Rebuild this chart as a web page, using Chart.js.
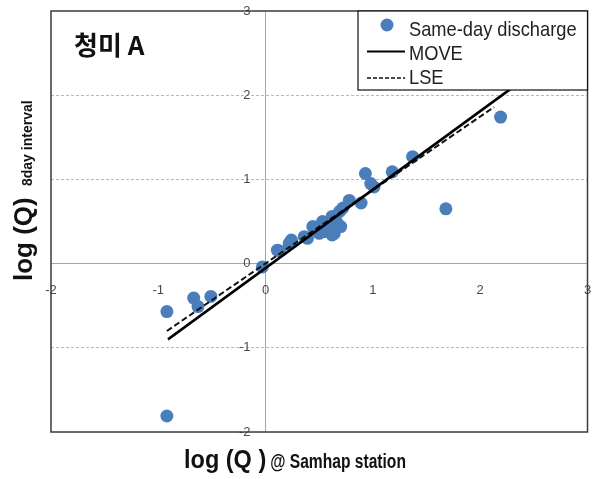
<!DOCTYPE html>
<html>
<head>
<meta charset="utf-8">
<script src="https://cdn.jsdelivr.net/npm/chart.js@4.4.0/dist/chart.umd.min.js"></script>
<style>
html, body { margin: 0; padding: 0; background: #fff; }
#wrap { width: 594px; height: 479px; position: relative; }
</style>
</head>
<body>
<div id="wrap"><canvas id="scatter-chart"></canvas></div>
<script>
// data (log Q)
var sameDayX = [-0.92, -0.92, -0.67, -0.63, -0.51, -0.03, 0.11, 0.13, 0.22, 0.24, 0.36, 0.39, 0.44, 0.47, 0.50, 0.53, 0.56, 0.58, 0.60, 0.62, 0.62, 0.64, 0.66, 0.67, 0.69, 0.70, 0.72, 0.78, 0.89, 0.93, 0.98, 1.01, 1.18, 1.37, 1.68, 2.19];
var sameDayY = [-0.57, -1.81, -0.41, -0.51, -0.39, -0.04, 0.16, 0.15, 0.24, 0.28, 0.32, 0.30, 0.44, 0.42, 0.36, 0.50, 0.38, 0.40, 0.46, 0.56, 0.34, 0.36, 0.50, 0.46, 0.62, 0.44, 0.66, 0.75, 0.72, 1.07, 0.95, 0.91, 1.09, 1.27, 0.65, 1.74];
var moveX = [-0.91, 2.30];
var moveY = [-0.90, 2.09];
var lseX = [-0.92, 2.13];
var lseY = [-0.80, 1.86];
var tickValues = [-2, -1, 0, 1, 2, 3];
var legendLabels = ['Same-day discharge', 'MOVE', 'LSE'];
var chartTitle = '청미 A';
var xTitle = ['log (Q )', '@ Samhap station'];
var yTitle = ['log (Q)', '8day interval'];

function toPoints(xs, ys) {
    return xs.map(function (x, i) { return { x: x, y: ys[i] }; });
}

var sans = '"Liberation Sans", Arial, sans-serif';

// text squeezed horizontally, to look like the narrow face of the original
function narrowText(ctx, text, x, y, sx) {
    ctx.save();
    ctx.translate(x, y);
    ctx.scale(sx, 1);
    ctx.fillText(text, 0, 0);
    var w = ctx.measureText(text).width * sx;
    ctx.restore();
    return w;
}

// frame, title, axis titles and legend box
var decor = {
    id: 'decor',
    afterDatasetsDraw: function (chart) {
        var ctx = chart.ctx;
        var a = chart.chartArea;
        ctx.save();

        // frame
        ctx.strokeStyle = '#3a3a3a';
        ctx.lineWidth = 1.5;
        ctx.strokeRect(a.left, a.top, a.right - a.left, a.bottom - a.top);

        // station title
        ctx.fillStyle = '#111';
        ctx.font = 'bold 26px "Noto Sans CJK KR", sans-serif';
        ctx.textBaseline = 'middle';
        ctx.textAlign = 'left';
        ctx.fillText(chartTitle, 74, 45);

        // x title
        ctx.textBaseline = 'alphabetic';
        ctx.font = 'bold 25px ' + sans;
        var w = narrowText(ctx, xTitle[0], 184, 468, 0.94);
        ctx.font = 'bold 20px ' + sans;
        narrowText(ctx, xTitle[1], 184 + w + 4, 468, 0.78);

        // y title
        ctx.save();
        ctx.translate(32, 281);
        ctx.rotate(-Math.PI / 2);
        ctx.font = 'bold 26px ' + sans;
        ctx.fillText(yTitle[0], 0, 0);
        ctx.font = 'bold 14px ' + sans;
        ctx.fillText(yTitle[1], 95, 0);
        ctx.restore();

        // legend
        var lx = 358, ly = 11, lw = a.right - 358, lh = 79;
        ctx.fillStyle = '#fff';
        ctx.fillRect(lx, ly, lw, lh);
        ctx.strokeStyle = '#111';
        ctx.lineWidth = 1.2;
        ctx.strokeRect(lx, ly, lw, lh);

        var marks = [25, 51.5, 78];
        var bases = [36, 60, 84];
        ctx.font = '21px ' + sans;
        ctx.textBaseline = 'alphabetic';
        chart.data.datasets.forEach(function (ds, i) {
            var y = marks[i];
            if (ds.showLine) {
                ctx.beginPath();
                ctx.strokeStyle = ds.borderColor;
                ctx.lineWidth = ds.borderWidth * 0.8;
                ctx.setLineDash(ds.borderDash ? [4, 2] : []);
                ctx.moveTo(367, y);
                ctx.lineTo(405, y);
                ctx.stroke();
                ctx.setLineDash([]);
            } else {
                ctx.beginPath();
                ctx.fillStyle = ds.backgroundColor;
                ctx.arc(387, y, ds.pointRadius, 0, Math.PI * 2);
                ctx.fill();
            }
            ctx.fillStyle = '#222';
            narrowText(ctx, ds.label, 409, bases[i], 0.87);
        });

        ctx.restore();
    }
};

var tickFont = { family: sans, size: 13 };

function edgeOrValue(c, zeroColor, otherColor) {
    var v = c.tick ? c.tick.value : null;
    if (v === -2 || v === 3) return 'rgba(0,0,0,0)';
    return v === 0 ? zeroColor : otherColor;
}

var ctx1 = document.getElementById('scatter-chart');
var scatterChart = new Chart(ctx1.getContext('2d'), {
    type: 'scatter',
    data: {
        datasets: [{
            label: legendLabels[0],
            data: toPoints(sameDayX, sameDayY),
            backgroundColor: '#4a7ebb',
            borderColor: '#4a7ebb',
            borderWidth: 0,
            pointRadius: 6.5,
            order: 2
        }, {
            label: legendLabels[1],
            data: toPoints(moveX, moveY),
            showLine: true,
            borderColor: '#000',
            borderWidth: 2.5,
            pointRadius: 0,
            order: 1
        }, {
            label: legendLabels[2],
            data: toPoints(lseX, lseY),
            showLine: true,
            borderColor: '#111',
            borderWidth: 2,
            borderDash: [6, 3],
            pointRadius: 0,
            order: 1
        }]
    },
    options: {
        responsive: true,
        maintainAspectRatio: false,
        animation: false,
        layout: { padding: { left: 51, right: 5, top: 11, bottom: 47 } },
        plugins: {
            legend: { display: false },
            tooltip: { enabled: false }
        },
        scales: {
            x: {
                type: 'linear',
                position: { y: -0.225 },
                min: -2,
                max: 3,
                afterBuildTicks: function (axis) {
                    axis.ticks = tickValues.map(function (v) { return { value: v }; });
                },
                grid: {
                    drawTicks: false,
                    color: function (c) { return edgeOrValue(c, '#a6a6a6', 'rgba(0,0,0,0)'); }
                },
                border: { display: false },
                ticks: { font: tickFont, color: '#4a4a4a', padding: 0, maxRotation: 0 }
            },
            y: {
                type: 'linear',
                position: { x: -0.14 },
                min: -2,
                max: 3,
                afterBuildTicks: function (axis) {
                    axis.ticks = tickValues.map(function (v) { return { value: v }; });
                },
                grid: {
                    drawTicks: false,
                    color: function (c) { return edgeOrValue(c, '#a6a6a6', '#b8b8b8'); },
                    lineWidth: 1
                },
                border: {
                    display: false,
                    dash: function (c) { return (c.tick && c.tick.value === 0) ? [] : [3, 2]; }
                },
                ticks: { font: tickFont, color: '#4a4a4a', padding: 0 }
            }
        }
    },
    plugins: [decor]
});
</script>
</body>
</html>
